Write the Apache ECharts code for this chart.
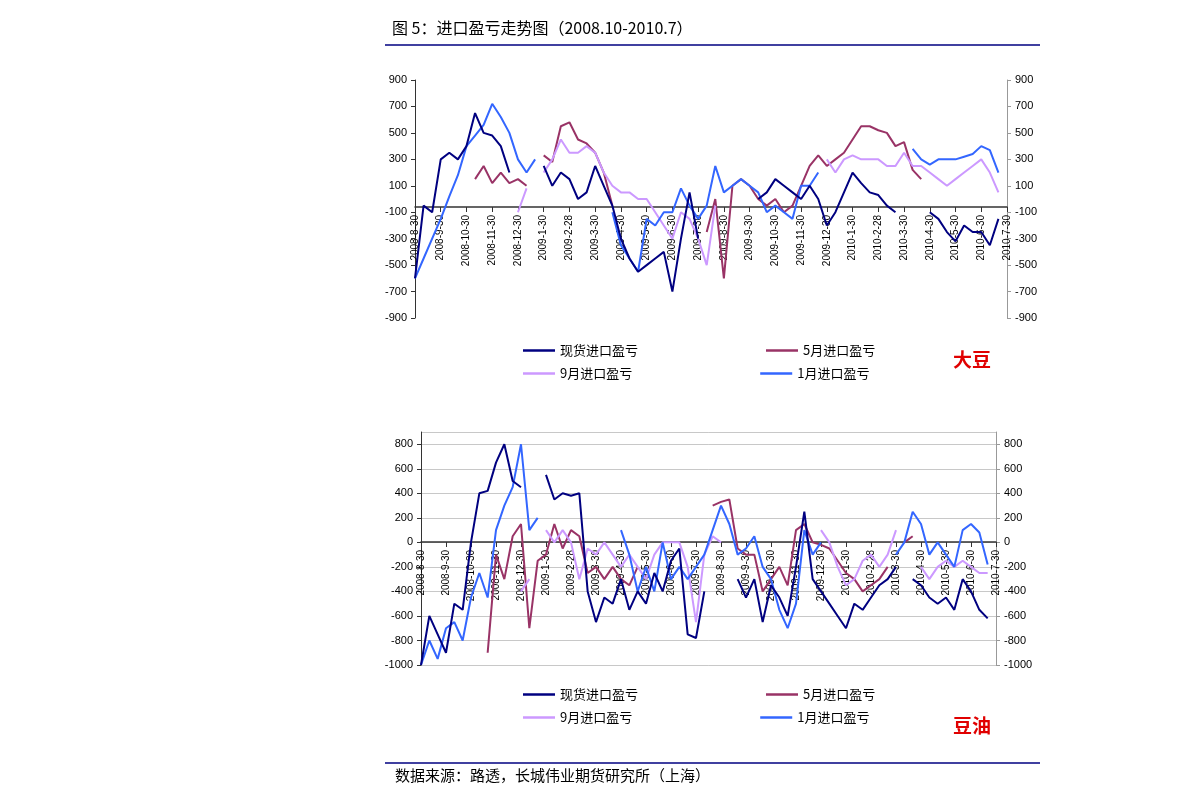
<!DOCTYPE html>
<html><head><meta charset="utf-8">
<script src="https://cdn.jsdelivr.net/npm/echarts@6/dist/echarts.min.js"></script>
<style>html,body{margin:0;padding:0;background:#fff}#c{width:1191px;height:808px}</style>
</head><body><div id="c"></div>
<script>
const monthLabels = ['2008-8-30','2008-9-30','2008-10-30','2008-11-30','2008-12-30','2009-1-30','2009-2-28','2009-3-30','2009-4-30','2009-5-30','2009-6-30','2009-7-30','2009-8-30','2009-9-30','2009-10-30','2009-11-30','2009-12-30','2010-1-30','2010-2-28','2010-3-30','2010-4-30','2010-5-30','2010-6-30','2010-7-30'];
const _ = null;
// 大豆 (soybean)
const soySpot = [-600,-50,-100,300,350,300,400,650,500,480,400,200,_,_,_,250,100,200,150,0,50,250,100,-50,-300,-450,-550,-500,-450,-400,-700,-300,50,-300,_,_,_,_,_,_,0,50,150,100,50,0,100,0,-200,-100,50,200,120,50,30,-50,-100,_,_,_,-100,-150,-250,-320,-200,-250,-250,-350,-150,_];
const soyMay = [_,_,_,_,_,_,_,150,250,120,200,120,150,100,_,330,280,550,580,450,420,350,200,-50,_,_,_,_,_,_,_,_,_,_,-250,0,-600,100,150,100,0,-50,0,-100,-50,100,250,330,250,300,350,450,550,550,520,500,400,430,220,150,_,_,_,_,_,_,_,_,_,_];
const soySep = [_,_,_,_,_,_,_,_,_,_,_,_,-100,80,_,200,300,450,350,350,400,350,200,100,50,50,0,0,-100,-200,-300,-100,-150,-300,-500,-50,_,_,_,_,_,_,_,_,_,_,_,_,300,200,300,330,300,300,300,250,250,350,250,250,200,150,100,150,200,250,300,200,50,_];
const soyJan = [-600,-450,-300,-150,20,180,400,480,560,720,620,500,300,200,300,_,_,_,_,_,_,_,_,-100,-350,-450,-550,-150,-200,-100,-100,80,-50,-150,-50,250,50,100,150,100,50,-100,-50,-100,-150,100,100,200,_,_,_,_,_,_,_,_,_,_,380,300,260,300,300,300,320,340,400,370,200,_];
// 豆油 (soybean oil)
const oilSpot = [-1000,-600,-750,-900,-500,-550,0,400,420,650,800,500,450,_,_,550,350,400,380,400,-400,-650,-450,-500,-300,-550,-400,-500,-250,-400,-150,-50,-750,-780,-400,_,_,_,-300,-450,-300,-650,-350,-450,-600,-200,250,-300,-400,-500,-600,-700,-500,-550,-450,-350,-300,-200,_,-300,-350,-450,-500,-450,-550,-300,-400,-550,-620,_];
const oilMay = [_,_,_,_,_,_,_,_,-900,-100,-300,50,150,-700,-150,-100,150,-50,100,50,-250,-200,-300,-200,-300,-350,-200,_,_,_,_,_,_,_,_,300,330,350,-50,-100,-100,-400,-300,-200,-350,100,150,0,-20,-50,-150,-250,-300,-400,-350,-300,-200,_,0,50,_,_,_,_,_,_,_,_,_,_];
const oilSep = [_,_,_,_,_,_,_,_,_,_,_,_,-400,-300,_,100,0,100,0,-300,-50,-100,0,-100,-200,-100,-200,-300,-100,0,0,0,-200,-650,-100,50,0,_,_,_,_,_,_,_,_,_,_,_,100,0,-200,-350,-300,-150,-100,-200,-100,100,_,_,-200,-300,-200,-150,-200,-150,-200,-250,-250,_];
const oilJan = [-1000,-800,-950,-700,-650,-800,-450,-250,-450,100,300,450,800,100,200,_,_,_,_,_,_,_,_,_,100,-100,-400,-200,-400,0,-300,-200,-300,-200,-100,100,300,150,-100,-50,50,-200,-300,-550,-700,-500,100,-100,0,_,_,_,_,_,_,_,_,-100,0,250,150,-100,0,-100,-200,100,150,80,-180,_];
const names = ['现货进口盈亏','5月进口盈亏','9月进口盈亏','1月进口盈亏'];
const colors = ['#000080','#993366','#CC99FF','#3366FF'];
const cats = soySpot.map((v,i)=>String(i));

const lab = {color:'#000',fontSize:11,fontFamily:'Liberation Sans, Arial',formatter:(v)=>String(v)};
function xAx(g,off){return {type:'category',gridIndex:g,data:cats,boundaryGap:false,offset:off,
  axisLine:{onZero:false,lineStyle:{color:'#333',width:1.5}},
  axisTick:{show:true,interval:(i)=>i%3===0,lineStyle:{color:'#333'}},
  axisLabel:{interval:(i)=>i%3===0,rotate:90,fontSize:10,color:'#000',fontFamily:'Liberation Sans, Arial',formatter:(v)=>monthLabels[Number(v)/3]||''}};}
function yAx(g,min,max,pos,split){return {type:'value',gridIndex:g,min,max,interval:200,position:pos,
  axisLine:{show:true,lineStyle:{color:pos==='left'?'#333':'#999'}},axisTick:{show:true,length:4,lineStyle:{color:pos==='left'?'#333':'#999'}},
  axisLabel:Object.assign({showMaxLabel:max===900&&min===-900},lab),
  splitLine:{show:split,lineStyle:{color:'#c8c8c8'}}};}
const sets=[[soySpot,soyMay,soySep,soyJan],[oilSpot,oilMay,oilSep,oilJan]];
const series=[];
sets.forEach((s,g)=>s.forEach((d,k)=>series.push({name:names[k],type:'line',xAxisIndex:g,yAxisIndex:g*2,data:d,symbol:'none',
  lineStyle:{width:2,color:colors[k]},itemStyle:{color:colors[k]},z:k===0?5:3})));
function leg(top,data){return {top,left:518,itemGap:128,itemWidth:32,itemHeight:2.5,icon:'rect',data,textStyle:{fontSize:13,color:'#000',fontFamily:'Noto Sans CJK SC'},selectedMode:false};}
const chart=echarts.init(document.getElementById('c'));
chart.setOption({
  animation:false,
  grid:[{left:415,right:184,top:80,height:238},{left:421,right:195,top:432,height:233}],
  xAxis:[xAx(0,-111),xAx(1,-123)],
  yAxis:[yAx(0,-900,900,'left',false),yAx(0,-900,900,'right',false),yAx(1,-1000,900,'left',true),yAx(1,-1000,900,'right',true)],
  legend:[leg(339,[names[0],names[1]]),leg(362,[names[2],names[3]]),leg(683,[names[0],names[1]]),leg(706,[names[2],names[3]])],
  series,
  graphic:[
    {type:'text',left:392,top:20,style:{text:'图 5：进口盈亏走势图（2008.10-2010.7）',fontSize:16,fill:'#000',fontFamily:'Noto Sans CJK SC'}},
    {type:'line',shape:{x1:385,y1:45,x2:1040,y2:45},style:{stroke:'#000080',lineWidth:1.5}},
    {type:'text',left:953,top:350,style:{text:'大豆',fontSize:19,fontWeight:'bold',fill:'#e00000',fontFamily:'Noto Sans CJK SC'}},
    {type:'text',left:953,top:716,style:{text:'豆油',fontSize:19,fontWeight:'bold',fill:'#e00000',fontFamily:'Noto Sans CJK SC'}},
    {type:'line',shape:{x1:385,y1:763,x2:1040,y2:763},style:{stroke:'#000080',lineWidth:1.5}},
    {type:'text',left:395,top:768,style:{text:'数据来源：路透，长城伟业期货研究所（上海）',fontSize:15,fill:'#000',fontFamily:'Noto Sans CJK SC'}}
  ]
});
</script></body></html>
